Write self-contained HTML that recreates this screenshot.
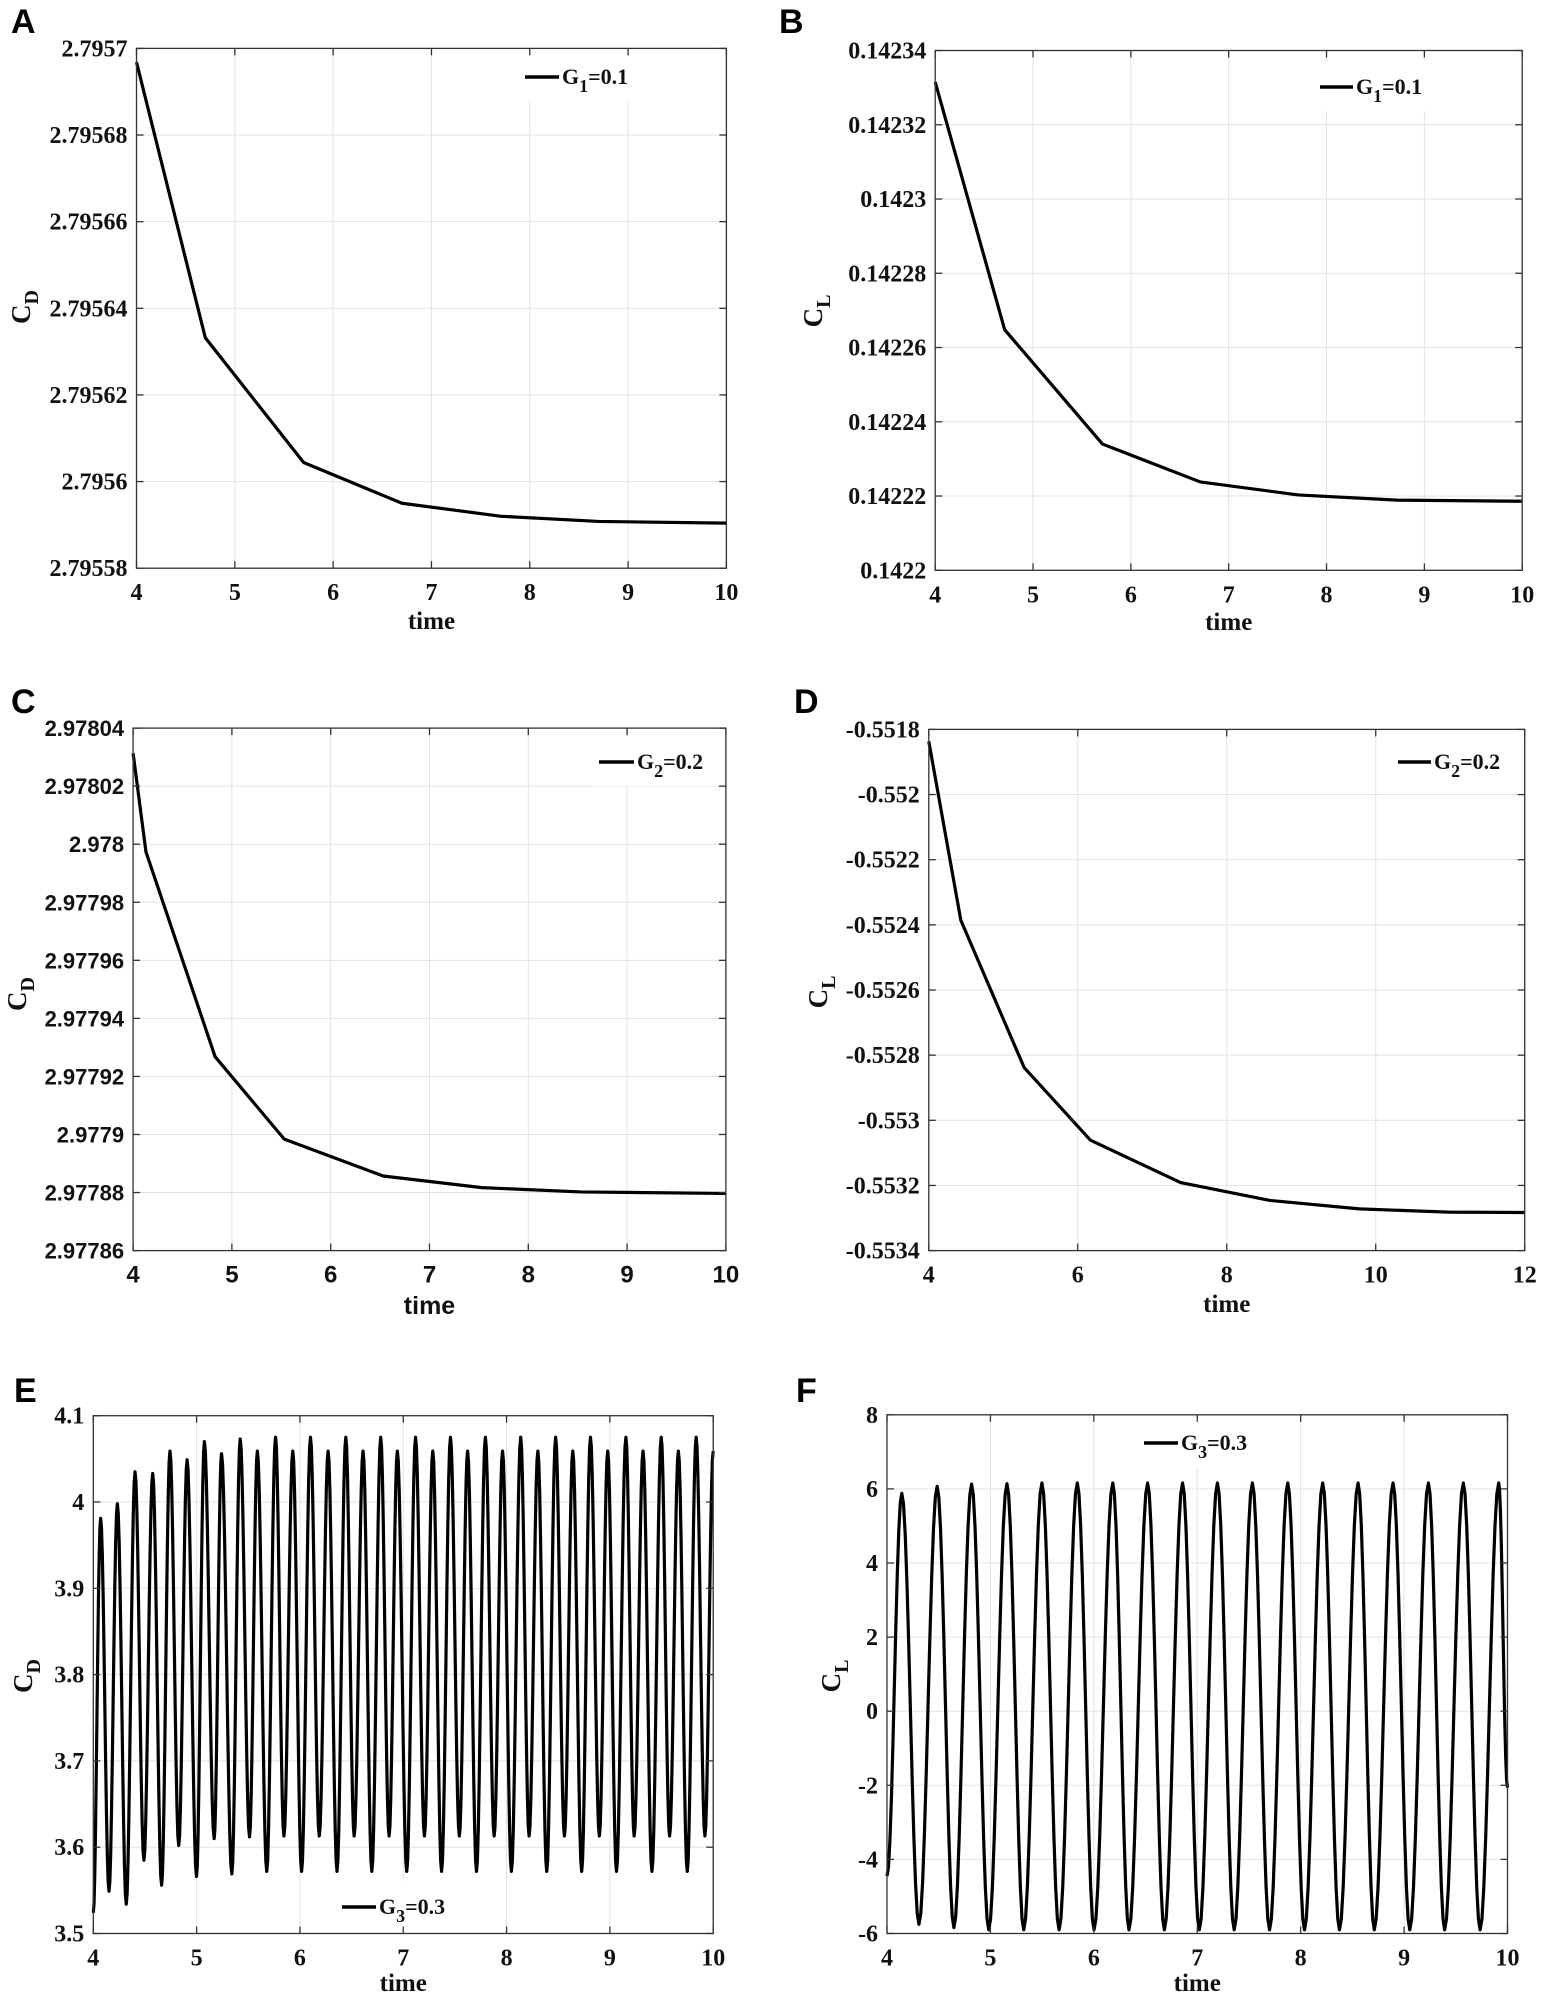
<!DOCTYPE html>
<html><head><meta charset="utf-8">
<style>
html,body{margin:0;padding:0;background:#fff;}
svg{display:block;}
</style></head>
<body>
<svg id="fig" xmlns="http://www.w3.org/2000/svg" width="1541" height="1999" viewBox="0 0 1541 1999"></svg>
<script>
// ---------- data ----------
const aTime = [4, 4.7, 5.7, 6.7, 7.7, 8.7, 10];
const aCD = [2.7956968, 2.7956332, 2.7956044, 2.795595, 2.795592, 2.7955908, 2.7955904];
const aYTicks = [2.79558, 2.7956, 2.79562, 2.79564, 2.79566, 2.79568, 2.7957];
const aYLabels = ["2.79558", "2.7956", "2.79562", "2.79564", "2.79566", "2.79568", "2.7957"];

const bTime = [4, 4.71, 5.71, 6.71, 7.71, 8.72, 10];
const bCL = [0.1423315, 0.1422648, 0.142234, 0.1422238, 0.1422203, 0.1422189, 0.1422186];
const bYTicks = [0.1422, 0.14222, 0.14224, 0.14226, 0.14228, 0.1423, 0.14232, 0.14234];
const bYLabels = ["0.1422", "0.14222", "0.14224", "0.14226", "0.14228", "0.1423", "0.14232", "0.14234"];

const cTime = [4, 4.13, 4.83, 5.53, 6.53, 7.53, 8.53, 10];
const cCD = [2.9780313, 2.9779974, 2.9779268, 2.9778984, 2.9778857, 2.9778817, 2.9778802, 2.9778797];
const cYTicks = [2.97786, 2.97788, 2.9779, 2.97792, 2.97794, 2.97796, 2.97798, 2.978, 2.97802, 2.97804];
const cYLabels = ["2.97786", "2.97788", "2.9779", "2.97792", "2.97794", "2.97796", "2.97798", "2.978", "2.97802", "2.97804"];

const dTime = [4, 4.43, 5.28, 6.17, 7.38, 8.58, 9.78, 10.98, 12];
const dCL = [-0.551837, -0.552386, -0.552838, -0.553061, -0.553191, -0.553246, -0.553272, -0.553282, -0.553283];
const dYTicks = [-0.5534, -0.5532, -0.553, -0.5528, -0.5526, -0.5524, -0.5522, -0.552, -0.5518];
const dYLabels = ["-0.5534", "-0.5532", "-0.553", "-0.5528", "-0.5526", "-0.5524", "-0.5522", "-0.552", "-0.5518"];

// E: extrema (peaks & troughs) of CD oscillation
const eTime = [4.000,4.071,4.152,4.233,4.319,4.404,4.490,4.575,4.661,4.742,4.827,4.908,4.999,5.075,5.170,5.241,5.341,5.422,5.512,5.588,5.679,5.764,5.845,5.931,6.016,6.102,6.187,6.273,6.359,6.444,6.525,6.611,6.696,6.782,6.863,6.943,7.034,7.119,7.205,7.286,7.371,7.457,7.543,7.623,7.709,7.795,7.880,7.961,8.047,8.137,8.218,8.303,8.389,8.475,8.560,8.641,8.727,8.812,8.898,8.979,9.064,9.155,9.235,9.321,9.407,9.497,9.578,9.663,9.749,9.835,9.920,10.000];
const eCD = [3.524,3.981,3.549,3.998,3.534,4.035,3.585,4.033,3.556,4.059,3.602,4.049,3.566,4.070,3.610,4.056,3.569,4.073,3.612,4.059,3.572,4.075,3.613,4.059,3.572,4.075,3.613,4.059,3.572,4.075,3.613,4.059,3.572,4.075,3.613,4.059,3.572,4.075,3.613,4.059,3.572,4.075,3.613,4.059,3.572,4.075,3.613,4.059,3.572,4.075,3.613,4.059,3.572,4.075,3.613,4.059,3.572,4.075,3.613,4.059,3.572,4.075,3.613,4.059,3.572,4.075,3.613,4.059,3.572,4.075,3.613,4.059];
const eYTicks = [3.5, 3.6, 3.7, 3.8, 3.9, 4, 4.1];
const eYLabels = ["3.5", "3.6", "3.7", "3.8", "3.9", "4", "4.1"];

// F: start point, extrema, end point of CL oscillation
const fTime = [4.000,4.143,4.309,4.485,4.647,4.818,4.984,5.160,5.322,5.498,5.664,5.840,6.002,6.183,6.340,6.520,6.682,6.858,7.020,7.195,7.357,7.533,7.699,7.875,8.037,8.213,8.375,8.555,8.712,8.893,9.055,9.235,9.392,9.573,9.735,9.915,10.000];
const fCL = [-4.45,5.88,-5.75,6.07,-5.84,6.13,-5.90,6.14,-5.90,6.16,-5.90,6.16,-5.90,6.16,-5.90,6.16,-5.90,6.16,-5.90,6.16,-5.90,6.16,-5.90,6.16,-5.90,6.16,-5.90,6.16,-5.90,6.16,-5.90,6.16,-5.90,6.16,-5.90,6.16,-2.06];
const fYTicks = [-6, -4, -2, 0, 2, 4, 6, 8];
const fYLabels = ["-6", "-4", "-2", "0", "2", "4", "6", "8"];

const xTicks10 = [4, 5, 6, 7, 8, 9, 10];
const xTicks12 = [4, 6, 8, 10, 12];

// ---------- drawing ----------
const NS = "http://www.w3.org/2000/svg";
const svg = document.getElementById("fig");
function el(tag, attrs, parent) {
  const e = document.createElementNS(NS, tag);
  for (const k in attrs) e.setAttribute(k, attrs[k]);
  (parent || svg).appendChild(e);
  return e;
}

function panel(cfg) {
  const g = el("g", {});
  
  
  const [L, T, R, B] = cfg.box;
  const xMin = cfg.xTicks[0], xMax = cfg.xTicks[cfg.xTicks.length - 1];
  const yMin = cfg.yTicks[0], yMax = cfg.yTicks[cfg.yTicks.length - 1];
  const sx = v => L + (v - xMin) / (xMax - xMin) * (R - L);
  const sy = v => B - (v - yMin) / (yMax - yMin) * (B - T);
  const tickFont = cfg.sans ? '"Liberation Sans", sans-serif' : '"Liberation Serif", serif';

  // grid
  cfg.xTicks.forEach(t => {
    const x = sx(t);
    const ln = el("line", {x1: x, y1: T, x2: x, y2: B, stroke: "#e3e3e3", "stroke-width": 1}, g);
    
    
  });
  cfg.yTicks.forEach(t => {
    const y = sy(t);
    const ln = el("line", {x1: L, y1: y, x2: R, y2: y, stroke: "#e3e3e3", "stroke-width": 1}, g);
    
    
  });

  // legend background + entry
  const lg = el("g", {}, g);
  
  
  el("rect", {x: cfg.leg[0] - 6, y: cfg.leg[2] - 26, width: 125, height: 50, fill: "#fff"}, lg);
  const ll = el("line", {x1: cfg.leg[0], y1: cfg.leg[2], x2: cfg.leg[1], y2: cfg.leg[2], stroke: "#000", "stroke-width": 3.5}, lg);
  
  
  const lt = el("text", {x: cfg.leg[1] + 3, y: cfg.leg[2] + 7, "font-family": '"Liberation Serif", serif', "font-weight": "bold", "font-size": 22, fill: "#111"}, lg);
  
  
  lt.appendChild(document.createTextNode("G"));
  const sub = el("tspan", {dy: 8, "font-size": 18}, lt);
  sub.textContent = cfg.legSub;
  const rest = el("tspan", {dy: -8}, lt);
  rest.textContent = "=" + cfg.legVal;

  // curve
  const pts = [];
  if (cfg.smooth) {
    for (let i = 0; i < cfg.xs.length - 1; i++) {
      const t0 = cfg.xs[i], t1 = cfg.xs[i + 1], v0 = cfg.ys[i], v1 = cfg.ys[i + 1];
      const n = 10;
      for (let k = 0; k < n; k++) {
        const s = k / n;
        const w = (1 - Math.cos(Math.PI * s)) / 2;
        pts.push(sx(t0 + (t1 - t0) * s).toFixed(2) + "," + sy(v0 + (v1 - v0) * w).toFixed(2));
      }
    }
    const li = cfg.xs.length - 1;
    pts.push(sx(cfg.xs[li]).toFixed(2) + "," + sy(cfg.ys[li]).toFixed(2));
  } else {
    cfg.xs.forEach((t, i) => pts.push(sx(t).toFixed(2) + "," + sy(cfg.ys[i]).toFixed(2)));
  }
  const pl = el("polyline", {points: pts.join(" "), fill: "none", stroke: "#000", "stroke-width": 3.2, "stroke-linejoin": "round"}, g);
  
  

  // box
  const bx = el("rect", {x: L, y: T, width: R - L, height: B - T, fill: "none", stroke: "#333", "stroke-width": 1.3}, g);
  
  

  // ticks + labels
  cfg.xTicks.forEach(t => {
    const x = sx(t);
    el("line", {x1: x, y1: B, x2: x, y2: B - 7, stroke: "#333", "stroke-width": 1.3}, g);
    el("line", {x1: x, y1: T, x2: x, y2: T + 7, stroke: "#333", "stroke-width": 1.3}, g);
    const tx = el("text", {x: x, y: B + 32, "text-anchor": "middle", "font-family": tickFont, "font-weight": "bold", "font-size": 24, fill: "#111"}, g);
    
    
    tx.textContent = String(t);
  });
  cfg.yTicks.forEach((t, i) => {
    const y = sy(t);
    el("line", {x1: L, y1: y, x2: L + 7, y2: y, stroke: "#333", "stroke-width": 1.3}, g);
    el("line", {x1: R, y1: y, x2: R - 7, y2: y, stroke: "#333", "stroke-width": 1.3}, g);
    const ty = el("text", {x: L - 9, y: y + 8, "text-anchor": "end", "font-family": tickFont, "font-weight": "bold", "font-size": cfg.sans ? 22 : 24, fill: "#111"}, g);
    
    
    ty.textContent = cfg.yLabels[i];
  });

  // x title
  const xt = el("text", {x: (L + R) / 2, y: cfg.timeY + 8, "text-anchor": "middle", "font-family": tickFont, "font-weight": "bold", "font-size": 25, fill: "#111"}, g);
  
  
  xt.textContent = "time";

  // y title
  const yt = el("text", {x: 0, y: 0, transform: "translate(" + cfg.yl[0] + "," + cfg.yl[1] + ") rotate(-90)", "text-anchor": "middle", "font-family": '"Liberation Serif", serif', "font-weight": "bold", "font-size": 27, fill: "#111"}, g);
  
  
  yt.appendChild(document.createTextNode("C"));
  const ys = el("tspan", {dy: 8, "font-size": 20}, yt);
  ys.textContent = cfg.ySub;

  // panel letter
  const pt = el("text", {x: cfg.letter[0], y: cfg.letter[1], "font-family": '"Liberation Sans", sans-serif', "font-weight": "bold", "font-size": 34, fill: "#000"}, g);
  
  
  pt.textContent = cfg.id;
}

panel({id: "A", box: [136.5, 48.4, 726.4, 568.2], xTicks: xTicks10, yTicks: aYTicks, yLabels: aYLabels, xs: aTime, ys: aCD,
  letter: [11, 33], yl: [30, 307], ySub: "D", timeY: 621, leg: [525, 559, 77], legSub: "1", legVal: "0.1"});
panel({id: "B", box: [935.2, 50.5, 1522.2, 570.3], xTicks: xTicks10, yTicks: bYTicks, yLabels: bYLabels, xs: bTime, ys: bCL,
  letter: [779, 33], yl: [822, 311], ySub: "L", timeY: 622, leg: [1320, 1353, 87], legSub: "1", legVal: "0.1"});
panel({id: "C", box: [133.1, 728.1, 725.9, 1250.6], xTicks: xTicks10, yTicks: cYTicks, yLabels: cYLabels, xs: cTime, ys: cCD, sans: true,
  letter: [11, 713], yl: [26, 994], ySub: "D", timeY: 1306, leg: [599, 634, 762], legSub: "2", legVal: "0.2"});
panel({id: "D", box: [928.8, 729.4, 1524.7, 1250.6], xTicks: xTicks12, yTicks: dYTicks, yLabels: dYLabels, xs: dTime, ys: dCL,
  letter: [794, 713], yl: [827, 992], ySub: "L", timeY: 1304, leg: [1398, 1431, 762], legSub: "2", legVal: "0.2"});
panel({id: "E", box: [93.3, 1415.7, 713.2, 1933.5], xTicks: xTicks10, yTicks: eYTicks, yLabels: eYLabels, xs: eTime, ys: eCD, smooth: true,
  letter: [14, 1402], yl: [32, 1676], ySub: "D", timeY: 1983, leg: [342, 376, 1907], legSub: "3", legVal: "0.3"});
panel({id: "F", box: [887, 1414.8, 1507.5, 1933.5], xTicks: xTicks10, yTicks: fYTicks, yLabels: fYLabels, xs: fTime, ys: fCL, smooth: true,
  letter: [796, 1402], yl: [840, 1676], ySub: "L", timeY: 1983, leg: [1144, 1178, 1443], legSub: "3", legVal: "0.3"});
</script>
</body></html>
